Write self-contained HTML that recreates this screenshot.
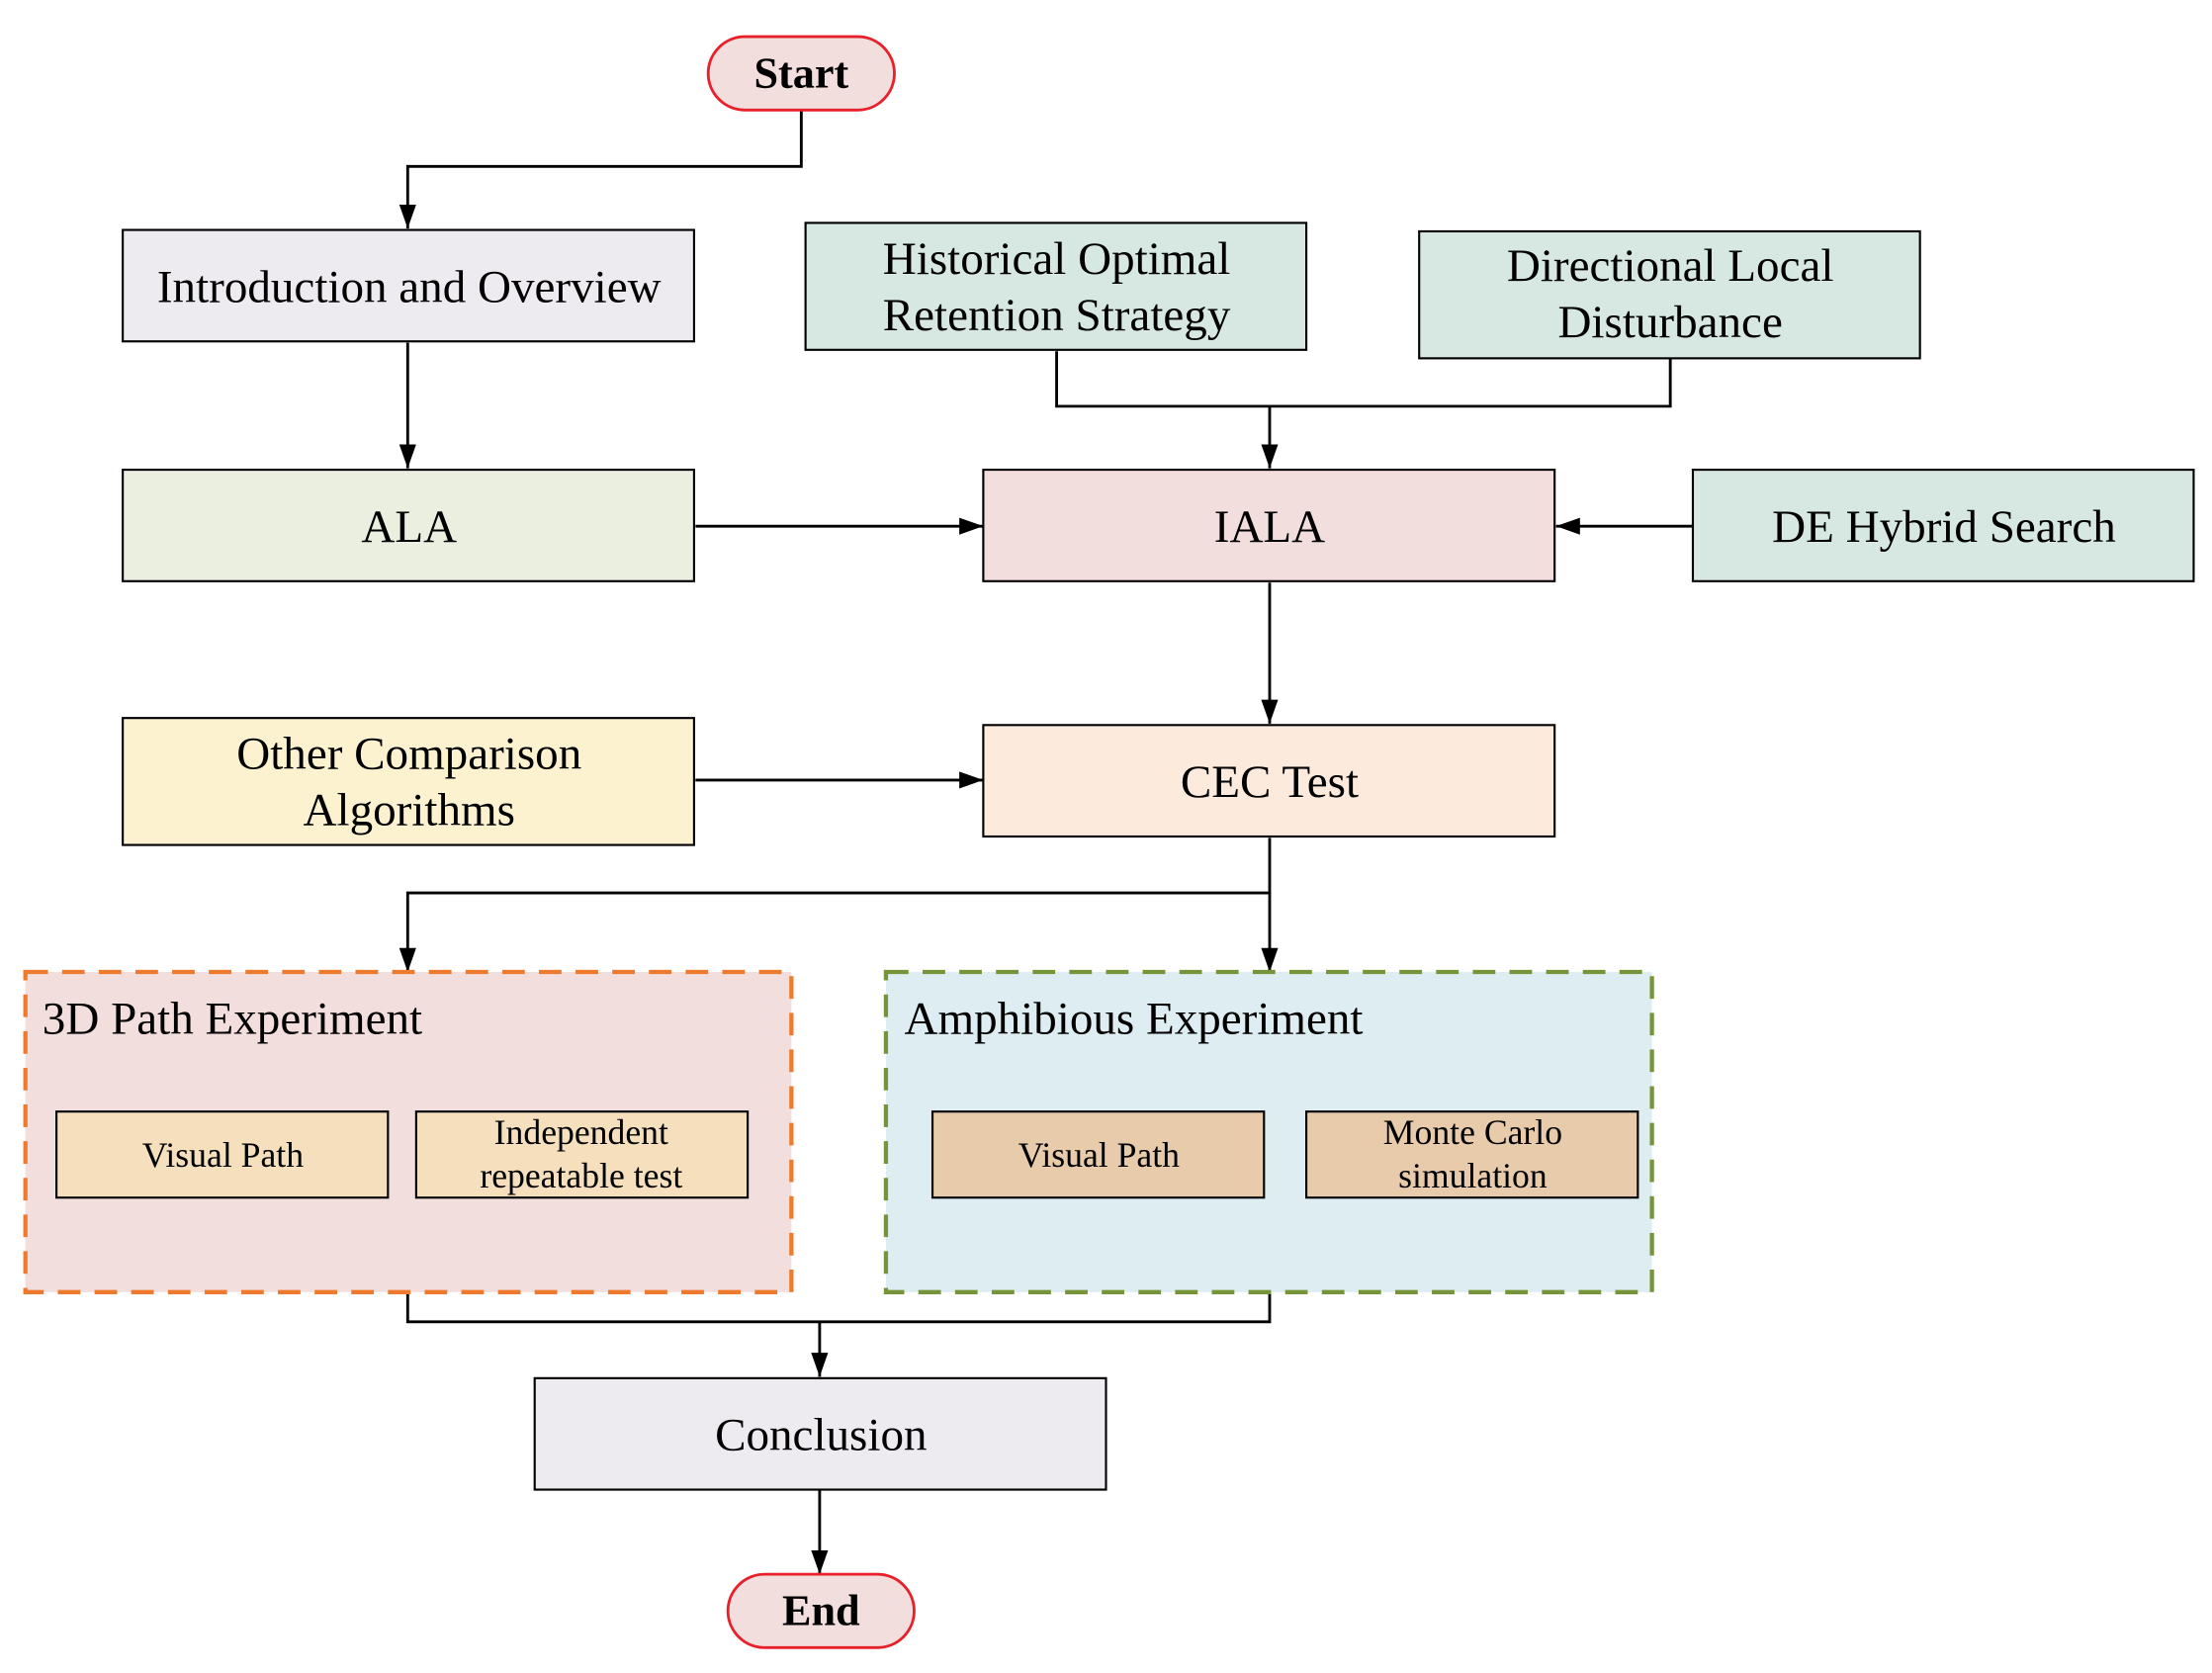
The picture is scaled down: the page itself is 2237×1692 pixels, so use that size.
<!DOCTYPE html>
<html><head><meta charset="utf-8"><style>html,body{margin:0;padding:0;background:#fff}svg{display:block}</style></head>
<body>
<svg width="2237" height="1692" viewBox="0 0 1568 1186" xmlns="http://www.w3.org/2000/svg" font-family="Liberation Serif, serif" text-anchor="middle">
<defs>
<marker id="b" markerWidth="18" markerHeight="18" refX="17" refY="9" orient="auto" markerUnits="userSpaceOnUse"><path d="M0,3 L17,9 L0,15 Z" fill="#000"/></marker></defs>
<g stroke="#000" stroke-width="2" fill="none">
<path d="M568,78 V118 H289 V162" marker-end="url(#b)"/>
<path d="M289,243 V332" marker-end="url(#b)"/>
<path d="M749,249 V288 H1184 V254 M900,288 V332" marker-end="url(#b)"/>
<path d="M493,373 H697" marker-end="url(#b)"/>
<path d="M1200,373 H1103" marker-end="url(#b)"/>
<path d="M900,413 V513" marker-end="url(#b)"/>
<path d="M493,553 H697" marker-end="url(#b)"/>
<path d="M900,594 V633 H289 V689" marker-end="url(#b)"/>
<path d="M900,633 V689" marker-end="url(#b)"/>
<path d="M289,916 V937 H900 V916 M581,937 V976" marker-end="url(#b)"/>
<path d="M581,1056 V1116" marker-end="url(#b)"/>
</g>
<rect x="502" y="26" width="132" height="52" rx="26" fill="#f2dedc" stroke="#e8202a" stroke-width="2"/>
<text x="568" y="62" font-size="31" font-weight="bold">Start</text>
<rect x="516" y="1116" width="132" height="52" rx="26" fill="#f2dedc" stroke="#e8202a" stroke-width="2"/>
<text x="582" y="1152" font-size="31" font-weight="bold">End</text>
<g stroke="#000" stroke-width="1.5">
<rect x="87" y="163" width="405" height="79" fill="#edebf0"/>
<rect x="571" y="158" width="355" height="90" fill="#d6e8e1"/>
<rect x="1006" y="164" width="355" height="90" fill="#d6e8e1"/>
<rect x="87" y="333" width="405" height="79" fill="#ebefe0"/>
<rect x="697" y="333" width="405" height="79" fill="#f2dedc"/>
<rect x="1200" y="333" width="355" height="79" fill="#d6e8e1"/>
<rect x="87" y="509" width="405" height="90" fill="#fdf2d0"/>
<rect x="697" y="514" width="405" height="79" fill="#fcebdc"/>
<rect x="379" y="977" width="405" height="79" fill="#edebf0"/>
</g>
<rect x="18" y="689" width="543" height="227" fill="#f2dedc" stroke="#ee7a2e" stroke-width="3" stroke-dasharray="16,10"/>
<rect x="628" y="689" width="543" height="227" fill="#deedf2" stroke="#76953a" stroke-width="3" stroke-dasharray="16,10"/>
<g stroke="#000" stroke-width="1.5">
<rect x="40" y="788" width="235" height="61" fill="#f5dfbc"/>
<rect x="295" y="788" width="235" height="61" fill="#f5dfbc"/>
<rect x="661" y="788" width="235" height="61" fill="#e7cbaa"/>
<rect x="926" y="788" width="235" height="61" fill="#e7cbaa"/>
</g>
<g font-size="33" fill="#000">
<text x="290" y="214">Introduction and Overview</text>
<text x="749" y="194">Historical Optimal</text>
<text x="749" y="234">Retention Strategy</text>
<text x="1184" y="199">Directional Local</text>
<text x="1184" y="239">Disturbance</text>
<text x="290" y="384">ALA</text>
<text x="900" y="384">IALA</text>
<text x="1378" y="384">DE Hybrid Search</text>
<text x="290" y="545">Other Comparison</text>
<text x="290" y="585">Algorithms</text>
<text x="900" y="565">CEC Test</text>
<text x="582" y="1028">Conclusion</text>
<text x="30" y="733" text-anchor="start">3D Path Experiment</text>
<text x="641" y="733" text-anchor="start">Amphibious Experiment</text>
</g>
<g font-size="25" fill="#000">
<text x="158" y="827">Visual Path</text>
<text x="412" y="811">Independent</text>
<text x="412" y="842">repeatable test</text>
<text x="779" y="827">Visual Path</text>
<text x="1044" y="811">Monte Carlo</text>
<text x="1044" y="842">simulation</text>
</g>
</svg>
</body></html>
